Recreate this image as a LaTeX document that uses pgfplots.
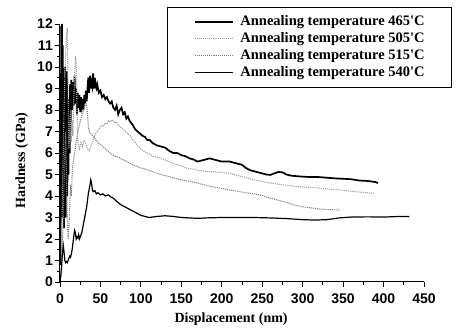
\documentclass[border=0pt]{standalone}
\usepackage{fontspec}
\setmainfont{Liberation Serif}
\newfontfamily\tickfont{Liberation Sans}
\usepackage{pgfplots}
\pgfplotsset{compat=1.18}
\begin{document}
\begin{tikzpicture}
\useasboundingbox (-60pt,-47pt) rectangle (396pt,282pt);
\begin{axis}[
  at={(0,0)}, anchor=south west,
  scale only axis, width=364pt, height=258pt,
  xmin=0, xmax=450, ymin=0, ymax=12,
  axis x line*=bottom, axis y line*=left,
  axis line style={line width=1pt},
  xtick={0,50,...,450}, ytick={0,1,...,12},
  minor x tick num=1, minor y tick num=1,
  tick align=outside,
  major tick length=5pt, minor tick length=3pt,
  every tick/.style={line width=0.9pt, black},
  /pgf/number format/assume math mode=true,
  ticklabel style={font=\tickfont\bfseries\fontsize{14}{16}\selectfont, inner sep=1pt},
  xticklabel style={yshift=-6pt},
  yticklabel style={xshift=-1pt},
  xlabel={Displacement (nm)}, ylabel={Hardness (GPa)},
  every axis x label/.style={at={(axis description cs:0.47,0)}, anchor=north, yshift=-27pt, font=\bfseries\fontsize{14}{16}\selectfont},
  every axis y label/.style={at={(axis description cs:-0.105,0.47)}, anchor=center, rotate=90, font=\bfseries\fontsize{14}{16}\selectfont},
  legend image code/.code={\draw[#1] (0pt,0pt) -- (38pt,0pt);},
  legend style={at={(1.077,1.066)}, anchor=north east, draw=black, line width=0.8pt,
    fill=white, inner xsep=26pt, inner ysep=6pt,
    font=\bfseries\fontsize{14.5}{17}\selectfont,
    nodes={inner sep=1pt, text height=11pt, text depth=4pt},
    /tikz/every odd column/.append style={column sep=6pt}},
  legend cell align=left,
]
\addplot[black, line width=1.7pt] coordinates {
(0.5,0.8)(1,4)(1.5,11.9)(2,6)(2.5,12)(3,3)(3.5,11)(4,5)(4.5,9.5)(5,2.5)(5.5,8)(6,4)(6.5,10)(7,3)(7.5,7)(8,5)(8.5,9.8)(9,4)(10,8.5)(10.5,5)(11,7.5)(12,6)(12.5,9.2)(13,7)(14,9.4)(15,8)(16,9.3)(17,8.2)(18,9.6)(19,8.3)(20,9)(21,7.8)(22,8.8)(23,8.1)(24,8.7)(25,7.9)(26,8.6)(27,8.2)(28,8.5)(29,8.0)(30,8.7)(31,8.3)(32,8.9)(33,8.4)(34,9.0)(35,9.5)(36,8.8)(37,9.6)(38,9.0)(39,9.3)(40,9.1)(41,9.7)(42,9.0)(43,9.5)(44,9.1)(45,9.0)(46,9.2)(48,8.8)(50,8.9)(52,8.6)(54,8.7)(56,8.5)(58,8.6)(60,8.4)(62,8.3)(64,8.4)(66,8.1)(68,8.0)(70,8.2)(72,7.8)(74,8.0)(76,8.1)(78,7.8)(80,7.9)(82,7.6)(84,7.7)(86,7.5)(88,7.4)(90,7.3)(93,7.1)(96,7.0)(99,6.9)(102,6.8)(105,6.75)(108,6.6)(111,6.6)(115,6.45)(120,6.35)(125,6.3)(130,6.25)(135,6.1)(140,6.0)(145,6.0)(150,5.9)(155,5.85)(160,5.75)(165,5.7)(170,5.6)(175,5.65)(180,5.7)(185,5.75)(190,5.7)(195,5.65)(200,5.6)(205,5.6)(210,5.6)(215,5.55)(220,5.5)(225,5.45)(230,5.3)(235,5.2)(240,5.15)(245,5.1)(250,5.05)(255,5.0)(260,4.98)(265,5.05)(270,5.12)(275,5.1)(280,5.0)(285,4.95)(290,4.93)(300,4.9)(310,4.88)(320,4.88)(330,4.85)(340,4.82)(350,4.8)(360,4.78)(370,4.72)(380,4.7)(390,4.65)(393,4.6)
};
\addlegendentry{Annealing temperature 465\textquotesingle C}
\addplot[gray!75, densely dotted, line width=1.1pt] coordinates {
(2,1.5)(3,4)(4,6)(5,8)(6,9.5)(7,10.5)(8,11.5)(9,11.8)(10,9)(11,6.2)(12,7)(13,8)(14,6.5)(15,7.5)(16,6.8)(17,8.5)(18,9.5)(19,10.5)(20,10.3)(21,8)(22,6.5)(24,6.2)(26,6.5)(28,6.3)(30,6.6)(32,6.4)(34,6.2)(36,6.1)(38,6.3)(40,6.5)(42,6.7)(44,6.9)(46,7.0)(48,7.1)(50,7.2)(52,7.3)(54,7.25)(56,7.4)(58,7.35)(60,7.5)(62,7.45)(64,7.55)(66,7.5)(68,7.4)(70,7.45)(72,7.3)(75,7.2)(78,7.1)(81,7.0)(84,6.9)(87,6.8)(90,6.6)(93,6.5)(96,6.35)(99,6.2)(103,6.1)(107,6.0)(111,5.95)(115,5.85)(120,5.8)(125,5.75)(130,5.67)(135,5.6)(140,5.5)(145,5.45)(150,5.4)(155,5.3)(160,5.28)(165,5.25)(170,5.2)(175,5.18)(180,5.15)(190,5.12)(200,5.1)(210,5.05)(220,4.95)(230,4.85)(240,4.75)(250,4.68)(260,4.6)(270,4.55)(280,4.5)(290,4.45)(300,4.42)(310,4.4)(320,4.37)(330,4.33)(340,4.3)(350,4.27)(360,4.22)(370,4.18)(380,4.15)(388,4.12)
};
\addlegendentry{Annealing temperature 505\textquotesingle C}
\addplot[black!50, densely dotted, line width=1.1pt] coordinates {
(2,0.3)(3,1.5)(4,3)(5,4.5)(6,6)(7,7)(8,5)(9,3)(10,2)(11,2.5)(12,3.5)(13,4.5)(14,4)(15,5)(16,5.5)(18,6)(20,6.5)(22,7)(24,7.3)(26,7.6)(28,7.9)(30,8.1)(32,8.3)(33,8.2)(34,7.8)(35,7.3)(36,7.0)(38,6.9)(40,6.8)(42,6.75)(44,6.6)(46,6.55)(48,6.45)(50,6.4)(53,6.3)(56,6.2)(60,6.05)(64,5.95)(68,5.85)(72,5.8)(76,5.72)(80,5.65)(85,5.55)(90,5.45)(95,5.38)(100,5.3)(105,5.25)(110,5.2)(115,5.12)(120,5.05)(125,5.0)(130,4.95)(135,4.9)(140,4.84)(150,4.75)(160,4.68)(170,4.6)(180,4.5)(190,4.42)(200,4.35)(210,4.28)(220,4.22)(230,4.15)(240,4.1)(250,4.02)(260,3.9)(270,3.8)(280,3.7)(290,3.58)(300,3.5)(310,3.45)(320,3.4)(330,3.37)(345,3.35)
};
\addlegendentry{Annealing temperature 515\textquotesingle C}
\addplot[black, line width=1.2pt] coordinates {
(0,0)(1,0.3)(2,0.8)(3,1.3)(4,1.7)(5,1.4)(6,1.0)(7,0.9)(8,0.95)(9,0.9)(10,1.0)(11,1.1)(12,1.2)(13,1.15)(14,1.3)(15,1.5)(16,1.8)(17,2.1)(18,2.4)(19,2.3)(20,2.0)(21,2.1)(22,2.05)(23,2.2)(24,2.0)(25,2.1)(26,2.2)(27,2.3)(28,2.5)(29,2.7)(30,2.9)(31,3.1)(32,3.3)(33,3.5)(34,3.8)(35,4.1)(36,4.3)(37,4.5)(38,4.75)(39,4.6)(40,4.3)(41,4.2)(43,4.25)(45,4.1)(47,4.15)(50,4.05)(53,4.1)(56,4.0)(60,4.05)(63,3.95)(66,3.9)(70,3.75)(75,3.6)(80,3.5)(85,3.4)(90,3.3)(95,3.2)(100,3.1)(105,3.05)(110,3.0)(120,3.05)(130,3.08)(140,3.05)(150,3.0)(160,2.98)(170,2.96)(180,2.98)(200,3.0)(220,3.0)(240,3.0)(260,2.98)(280,2.95)(300,2.9)(315,2.88)(330,2.9)(345,2.98)(360,3.02)(380,3.03)(400,3.02)(420,3.05)(432,3.05)
};
\addlegendentry{Annealing temperature 540\textquotesingle C}
\end{axis}
\end{tikzpicture}
\end{document}
